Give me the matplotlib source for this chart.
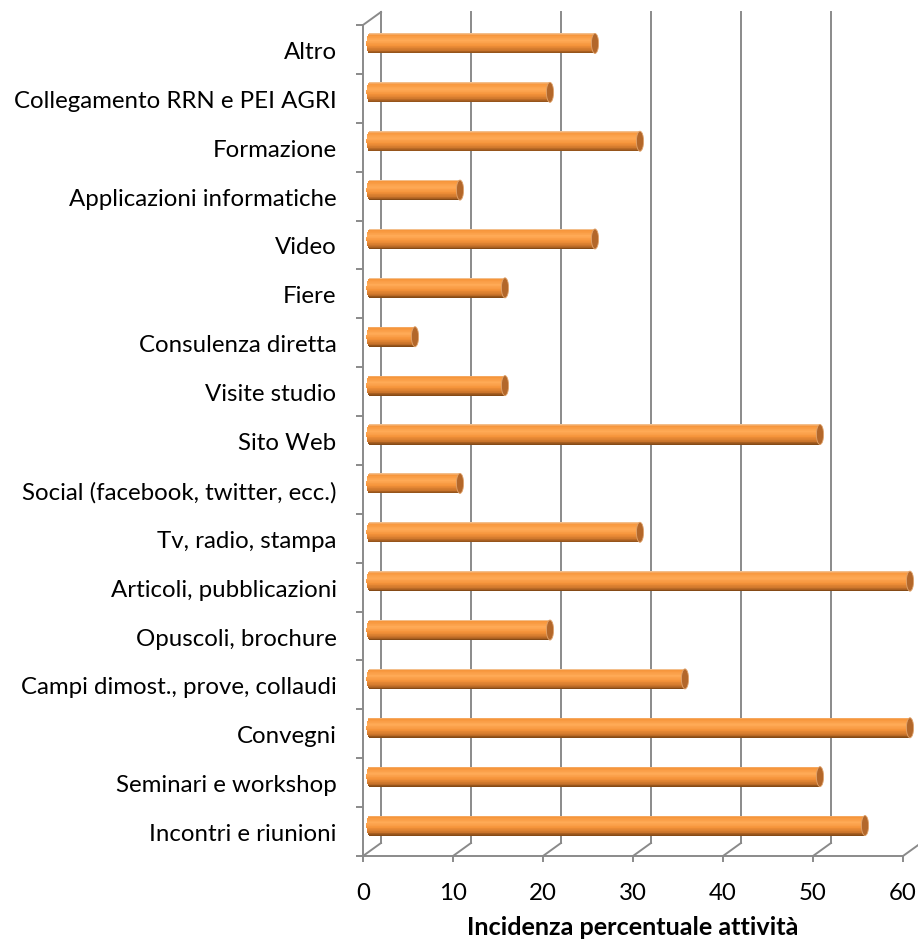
import matplotlib
matplotlib.use("Agg")
import matplotlib.pyplot as plt
import numpy as np
from matplotlib.patches import Rectangle, Ellipse
from matplotlib.lines import Line2D
from matplotlib.colors import LinearSegmentedColormap
import matplotlib.transforms as mtransforms

# ---------------- data ----------------
categories = [
    "Incontri e riunioni",
    "Seminari e workshop",
    "Convegni",
    "Campi dimost., prove, collaudi",
    "Opuscoli, brochure",
    "Articoli, pubblicazioni",
    "Tv, radio, stampa",
    "Social (facebook, twitter, ecc.)",
    "Sito Web",
    "Visite studio",
    "Consulenza diretta",
    "Fiere",
    "Video",
    "Applicazioni informatiche",
    "Formazione",
    "Collegamento RRN e PEI AGRI",
    "Altro",
]
values = [55, 50, 60, 35, 20, 60, 30, 10, 50, 15, 5, 15, 25, 10, 30, 20, 25]
x_ticks = [0, 10, 20, 30, 40, 50, 60]
x_label = "Incidenza percentuale attività"

# ---------------- style ----------------
FONT = ["Lato", "DejaVu Sans"]
plt.rcParams["font.family"] = FONT
FS = 17.3
GRID = "#8a8a8a"
W, H, DPI = 918, 945, 100
BACK_DX, BACK_DY = 18, 13      # depth offset of back wall (pixels)
BAR_DX, BAR_DY = 7, 6          # bar offset (pixels)
BAR_H = 0.41                   # bar thickness in category units
CAP_PX = 3.6                   # half width of cylinder end (pixels)

fig = plt.figure(figsize=(W / DPI, H / DPI), dpi=DPI)
fig.patch.set_facecolor("white")
ax = fig.add_axes([363 / W, (H - 857) / H, 540 / W, (857 - 26) / H])
n = len(categories)
ax.set_xlim(0, 60)
ax.set_ylim(-0.5, n - 0.5)
ax.set_facecolor("none")
for s in ["top", "right"]:
    ax.spines[s].set_visible(False)
for s in ["left", "bottom"]:
    ax.spines[s].set_color(GRID)
    ax.spines[s].set_linewidth(1.4)

# y labels at category centres, ticks at boundaries
ax.set_yticks(range(n))
ax.set_yticklabels(categories, fontsize=FS, color="#000000")
ax.tick_params(axis="y", which="major", length=0, pad=19)
ax.set_yticks(np.arange(-0.5, n, 1.0), minor=True)
ax.tick_params(axis="y", which="minor", length=5, width=1.4, color=GRID)

ax.set_xticks(x_ticks)
ax.set_xticklabels([str(t) for t in x_ticks], fontsize=FS)
ax.tick_params(axis="x", length=4, width=1.4, color=GRID, pad=14.5)
ax.set_xlabel(x_label, fontsize=18.2, fontweight="bold", labelpad=9)

fig.canvas.draw()
px_per_x = ax.transData.transform((10, 0))[0] - ax.transData.transform((0, 0))[0]
px_per_x /= 10.0

# back wall gridlines + floor lines (drawn in display space)
ident = mtransforms.IdentityTransform()
for t in x_ticks:
    fb = ax.transData.transform((t, -0.5))
    ft = ax.transData.transform((t, n - 0.5))
    bb = fb + np.array([BACK_DX, BACK_DY])
    bt = ft + np.array([BACK_DX, BACK_DY])
    ax.add_line(Line2D([bb[0], bt[0]], [bb[1], bt[1]], transform=ident,
                       color=GRID, lw=1.4, zorder=1, clip_on=False))
    ax.add_line(Line2D([fb[0], bb[0]], [fb[1], bb[1]], transform=ident,
                       color=GRID, lw=1.4, zorder=1, clip_on=False))
# top-left slanted edge
ft = ax.transData.transform((0, n - 0.5))
bt = ft + np.array([BACK_DX, BACK_DY])
ax.add_line(Line2D([ft[0], bt[0]], [ft[1], bt[1]], transform=ident,
                   color=GRID, lw=1.4, zorder=1, clip_on=False))

# cylinder bars
cmap = LinearSegmentedColormap.from_list("cyl", [
    (0.00, "#f2c9a0"),
    (0.08, "#f6953b"),
    (0.35, "#ffab57"),
    (0.60, "#f5933a"),
    (0.85, "#c8732a"),
    (1.00, "#7d4514"),
])
bar_trans = ax.transData + mtransforms.ScaledTranslation(BAR_DX / DPI, BAR_DY / DPI, fig.dpi_scale_trans)
a = CAP_PX / px_per_x
nstripe = 28
for i, v in enumerate(values):
    y0 = i - BAR_H / 2
    for k in range(nstripe):
        frac = (k + 0.5) / nstripe            # 0 = bottom, 1 = top
        tt = 2 * frac - 1
        xl = -a * np.sqrt(max(0.0, 1 - tt * tt))
        col = cmap(1 - frac)
        ax.add_patch(Rectangle((xl, y0 + k * BAR_H / nstripe), v - xl, BAR_H / nstripe * 1.05,
                               facecolor=col, edgecolor="none", transform=bar_trans,
                               clip_on=False, zorder=3))
    ax.add_patch(Ellipse((v, i), 2 * a, BAR_H, facecolor="#b3672a", edgecolor="#e1a46d",
                         lw=0.6, transform=bar_trans, clip_on=False, zorder=4))

fig.savefig("out.png", dpi=DPI, facecolor="white")
